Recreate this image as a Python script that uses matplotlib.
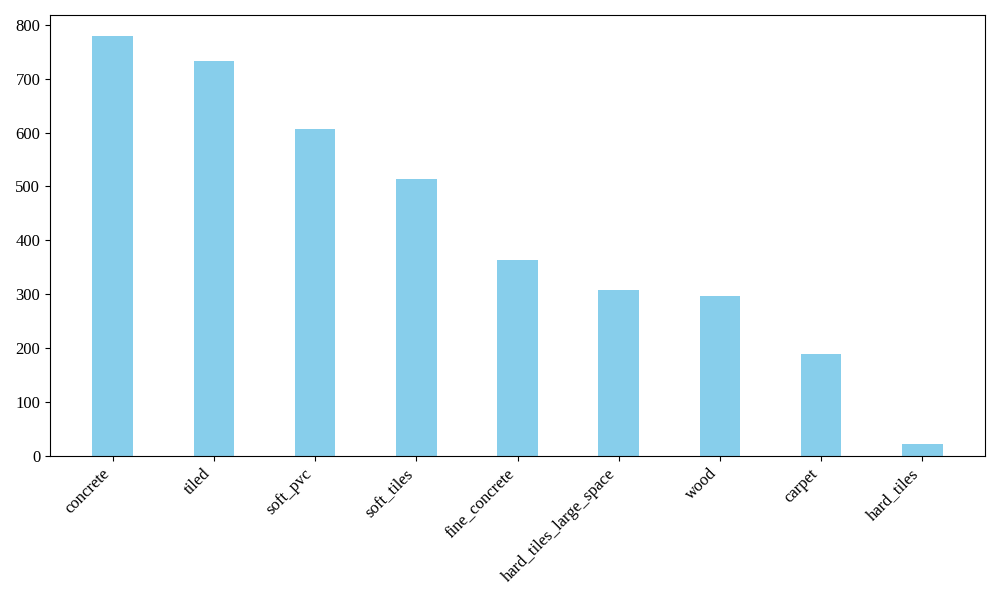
import matplotlib
matplotlib.use('Agg')
import matplotlib.pyplot as plt

plt.rcParams['font.family'] = ['Liberation Serif', 'DejaVu Serif']
plt.rcParams['font.size'] = 12

floors = ['concrete', 'tiled', 'soft_pvc', 'soft_tiles', 'fine_concrete',
          'hard_tiles_large_space', 'wood', 'carpet', 'hard_tiles']
counts = [779, 733, 607, 514, 364, 308, 297, 189, 22]

fig, ax = plt.subplots(figsize=(10, 6), dpi=100)
ax.bar(floors, counts, width=0.4, color='skyblue')
plt.xticks(rotation=45, ha='right')
plt.subplots_adjust(left=0.05, right=0.985, top=0.975, bottom=0.24)
plt.savefig('out.png')
